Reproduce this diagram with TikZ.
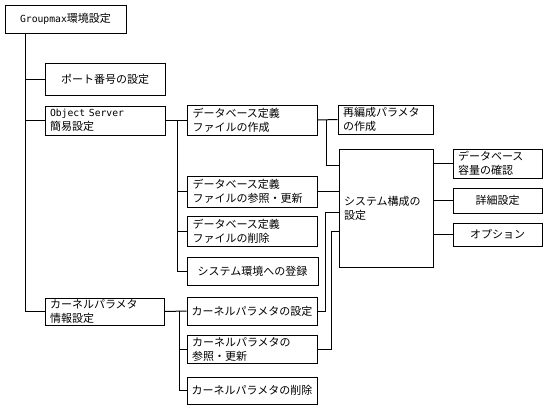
\documentclass[tikz,border=0pt]{standalone}
\usepackage{fontspec}
\setmainfont{Noto Sans CJK JP}
\newfontfamily\monofam{DejaVu Sans Mono}
\newcommand\mylat[1]{{\monofam\fontsize{9.75}{14}\selectfont #1}}
\begin{document}
\begin{tikzpicture}[x=1pt,y=-1pt,
  base/.style={draw, line width=1pt, inner ysep=1pt, font=\fontsize{11}{14}\selectfont},
  lbox/.style={base, inner xsep=5pt, align=left},
  cbox/.style={base, inner xsep=2pt, align=center},
  conn/.style={line width=1pt}]
\useasboundingbox (0,0) rectangle (546,408);
% column 1
\node[cbox, minimum width=121pt, minimum height=28pt] (g) at (65.5,19) {\mylat{Groupmax}環境設定};
\node[cbox, minimum width=120pt, minimum height=32pt] (port) at (105,79) {ポート番号の設定};
\node[lbox, text width=110pt, minimum height=29pt] (os) at (105,120.5) {\mylat{Object Server}\\簡易設定};
\node[lbox, text width=109pt, minimum height=27pt] (kern) at (104.5,311.5) {カーネルパラメタ\\情報設定};
% column 2
\node[lbox, text width=120pt, minimum height=30pt] (c1) at (252.5,120) {データベース定義\\ファイルの作成};
\node[lbox, text width=120pt, minimum height=31pt] (c2) at (252.5,191.5) {データベース定義\\ファイルの参照・更新};
\node[lbox, text width=120pt, minimum height=30pt] (c3) at (252.5,231) {データベース定義\\ファイルの削除};
\node[cbox, minimum width=131pt, minimum height=28pt] (c4) at (252.5,271) {システム環境への登録};
\node[cbox, minimum width=130pt, minimum height=28pt] (k1) at (252,311) {カーネルパラメタの設定};
\node[lbox, text width=120pt, minimum height=28pt] (k2) at (252,349) {カーネルパラメタの\\参照・更新};
\node[cbox, minimum width=130pt, minimum height=27pt] (k3) at (252,390.5) {カーネルパラメタの削除};
% column 3
\node[lbox, text width=85pt, minimum height=29pt] (r) at (385.5,119.5) {再編成パラメタ\\の作成};
\node[lbox, text width=84pt, minimum height=118pt] (s) at (386,208) {システム構成の\\設定};
% column 4
\node[lbox, text width=79pt, minimum height=29pt] (d1) at (497.5,163.5) {データベース\\容量の確認};
\node[cbox, minimum width=89pt, minimum height=25pt] (d2) at (497.5,200.5) {詳細設定};
\node[cbox, minimum width=89pt, minimum height=23pt] (d3) at (497.5,234.5) {オプション};
% helper coordinates
\coordinate (t0) at (25,0);
\coordinate (t1) at (177,0);
\coordinate (t2) at (179,0);
\coordinate (t3) at (326,0);
\coordinate (t4) at (325,0);
\coordinate (t5) at (331,0);
\coordinate (sa) at ([yshift=43pt]s.west);
\coordinate (sb) at ([yshift=-4pt]s.west);
\coordinate (sc) at ([yshift=-23pt]s.west);
% main trunk
\draw[conn] (t0 |- g.south) -- (t0 |- kern.west);
\draw[conn] (t0 |- port.west) -- (port.west);
\draw[conn] (t0 |- os.west) -- (os.west);
\draw[conn] (t0 |- kern.west) -- (kern.west);
% object server branch
\draw[conn] (os.east) -- (t1 |- os.east) -- (t1 |- c4.west) -- (c4.west);
\draw[conn] (t1 |- c1.west) -- (c1.west);
\draw[conn] (t1 |- c2.west) -- (c2.west);
\draw[conn] (t1 |- c3.west) -- (c3.west);
% kernel branch
\draw[conn] (kern.east) -- (k1.west);
\draw[conn] (t2 |- k1.west) -- (t2 |- k3.west) -- (k3.west);
\draw[conn] (t2 |- k2.west) -- (k2.west);
% to column 3
\draw[conn] (c1.east) -- (r.west);
\draw[conn] (t3 |- c1.east) -- (t3 |- sa) -- (sa);
\draw[conn] (c2.east) -- (c2.east -| s.west);
\draw[conn] (k1.east) -- (t4 |- k1.east) -- (t4 |- sb) -- (sb);
\draw[conn] (k2.east) -- (t5 |- k2.east) -- (t5 |- sc) -- (sc);
% to column 4
\draw[conn] (s.east |- d1.west) -- (d1.west);
\draw[conn] (s.east |- d2.west) -- (d2.west);
\draw[conn] (s.east |- d3.west) -- (d3.west);
\end{tikzpicture}
\end{document}
